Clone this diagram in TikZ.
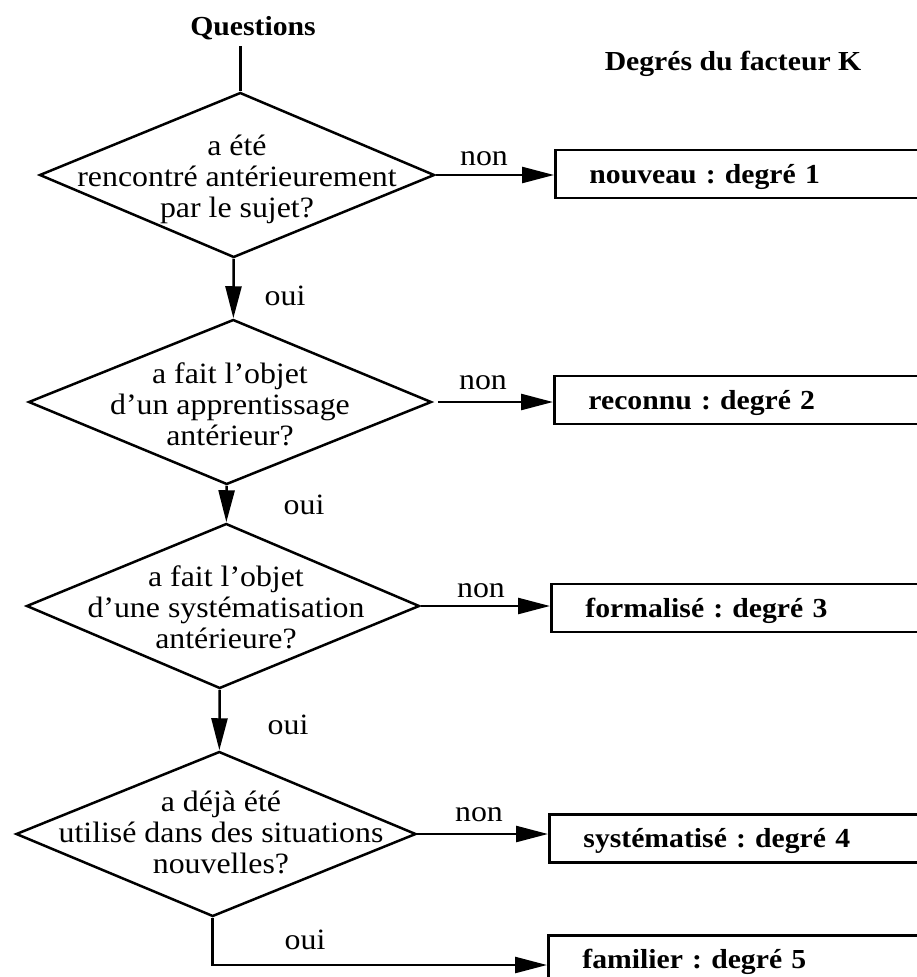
\documentclass[tikz,border=0pt]{standalone}
\usepackage{fontspec}
\setmainfont{Liberation Serif}[FakeStretch=1.08]
\usetikzlibrary{arrows.meta,shapes.geometric}
\frenchspacing
\begin{document}
\begin{tikzpicture}[x=1pt,y=-1pt,
  dia/.style={draw, diamond, line width=2.5pt, minimum width=#1, minimum height=165pt, inner sep=0pt, transform shape},
  qtext/.style={align=center, font=\fontsize{29.5}{31}\selectfont, inner sep=0pt},
  degbox/.style={draw, line width=2.9pt, anchor=west, minimum height=48pt, text width=332pt, inner xsep=34pt, align=left, font=\bfseries\fontsize{27.5}{30}\selectfont, text height=20pt, text depth=2pt},
  lab/.style={font=\fontsize{29.5}{31}\selectfont, inner sep=0pt},
  title/.style={font=\bfseries\fontsize{27.5}{30}\selectfont, inner sep=0pt},
  conn/.style={line width=2.5pt},
  arr/.style={conn, -{Triangle[length=32pt,width=16pt]}}
]
\useasboundingbox (0,0) rectangle (917,977);
\clip (0,0) rectangle (917,977);

% titles
\node[title] (q) at (253,28) {Questions};
\node[title] (k) at (733,64) {Degrés du facteur K};

% diamonds
\begin{scope}[shift={(237,175)}, xslant=0.04]
  \node[dia=395pt] (d1) at (0,0) {};
\end{scope}
\begin{scope}[shift={(230,402)}, xslant=0.04]
  \node[dia=403pt] (d2) at (0,0) {};
\end{scope}
\begin{scope}[shift={(223,606)}, xslant=0.04]
  \node[dia=393pt] (d3) at (0,0) {};
\end{scope}
\begin{scope}[shift={(216,834)}, xslant=0.04]
  \node[dia=400pt] (d4) at (0,0) {};
\end{scope}

% diamond texts
\node[qtext] (t1) at (237,179) {a été\\rencontré antérieurement\\par le sujet?};
\node[qtext] (t2) at (230,404) {a fait l’objet\\d’un apprentissage\\antérieur?};
\node[qtext] (t3) at (226,607) {a fait l’objet\\d’une systématisation\\antérieure?};
\node[qtext] (t4) at (221,832) {a déjà été\\utilisé dans des situations\\nouvelles?};

% boxes
\node[degbox] (b1) at (554,174) {nouveau : degré 1};
\node[degbox] (b2) at (553,400) {reconnu : degré 2};
\node[degbox] (b3) at (550,608) {formalisé : degré 3};
\node[degbox] (b4) at (548,838.5) {systématisé : degré 4};
\node[degbox] (b5) at (547,959.5) {familier : degré 5};

% connectors
\coordinate (qe) at (d1.north |- 0,46);
\draw[conn] (qe) -- (d1.north);
\draw[arr] (d1.south) -- (d2.north);
\draw[arr] (d2.south) -- (d3.north);
\draw[arr] (d3.south) -- (d4.north);
\draw[arr] (d1.east) -- (d1.east -| b1.west);
\draw[arr, shorten <=5pt] (d2.east) -- (d2.east -| b2.west);
\draw[arr] (d3.east) -- (d3.east -| b3.west);
\draw[arr] (d4.east) -- (d4.east -| b4.west);
\draw[arr] (d4.south) |- ([yshift=-5.5pt]b5.west);

% labels
\node[lab] (n1) at (484,159) {non};
\node[lab] (n2) at (483,383) {non};
\node[lab] (n3) at (481,591) {non};
\node[lab] (n4) at (479,815) {non};
\node[lab] (o1) at (285,296) {oui};
\node[lab] (o2) at (304,505) {oui};
\node[lab] (o3) at (288,725) {oui};
\node[lab] (o4) at (305,940) {oui};
\end{tikzpicture}
\end{document}
